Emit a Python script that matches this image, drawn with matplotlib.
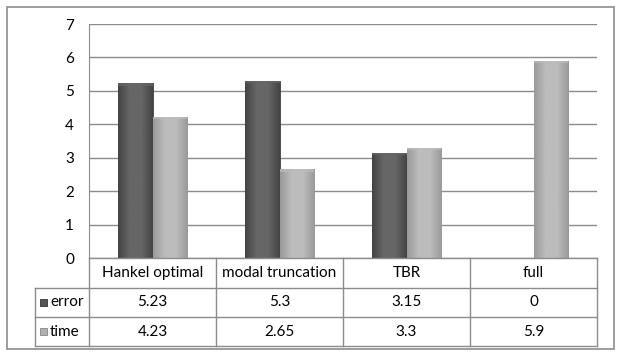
import numpy as np
import matplotlib
matplotlib.use("Agg")
import matplotlib.pyplot as plt
from matplotlib.patches import Rectangle
from matplotlib.lines import Line2D

# data
categories = ["Hankel optimal", "modal truncation", "TBR", "full"]
series_names = ["error", "time"]
error_vals = [5.23, 5.3, 3.15, 0]
time_vals = [4.23, 2.65, 3.3, 5.9]
error_labels = ["5.23", "5.3", "3.15", "0"]
time_labels = ["4.23", "2.65", "3.3", "5.9"]
yticks = [0, 1, 2, 3, 4, 5, 6, 7]

W, H = 622, 357
FS = 11
plt.rcParams['font.family'] = ['Lato', 'DejaVu Sans']

fig = plt.figure(figsize=(W / 100, H / 100), dpi=100)


def fx(x):
    return x / W


def fy(y):
    return 1 - y / H


# outer frame
fig.patches.append(Rectangle((fx(7), fy(349)), fx(614) - fx(7), fy(7) - fy(349),
                             transform=fig.transFigure, fill=False,
                             edgecolor="#8c8c8c", lw=1.2))

ax = fig.add_axes([fx(89), fy(258), fx(597) - fx(89), fy(24) - fy(258)])
ax.set_xlim(-0.5, 3.5)
ax.set_ylim(0, 7)
ax.set_yticks(yticks)
ax.set_xticks([])
for s in ["top", "right", "bottom"]:
    ax.spines[s].set_visible(False)
ax.spines["left"].set_color("#8c8c8c")
ax.tick_params(axis="y", length=0, pad=14, labelsize=FS, colors="#000000")
for t in ax.get_yticklabels():
    t.set_horizontalalignment("center")
ax.yaxis.grid(True, color="#8c8c8c", lw=1.0)
ax.set_axisbelow(True)

x = np.arange(len(categories))
bw = 0.275


def grad_bars(bars, dark, light):
    cmap = matplotlib.colors.LinearSegmentedColormap.from_list("g", [dark, light, light, dark])
    g = np.linspace(0, 1, 64).reshape(1, -1)
    for b in bars:
        h = b.get_height()
        if h <= 0:
            continue
        x0 = b.get_x()
        im = ax.imshow(g, extent=(x0, x0 + b.get_width(), 0, h), aspect="auto",
                       cmap=cmap, zorder=3, origin="lower")
        im.set_clip_path(b)
        # top bevel
        ax.add_patch(Rectangle((x0, h - 0.07), b.get_width(), 0.07, facecolor=light,
                               edgecolor="none", alpha=0.7, zorder=4))


b1 = ax.bar(x - bw / 2, error_vals, bw, color="#5e5e5e", edgecolor="#3f3f3f", lw=0.6, zorder=2)
b2 = ax.bar(x + bw / 2, time_vals, bw, color="#b4b4b4", edgecolor="#8a8a8a", lw=0.6, zorder=2)
grad_bars(b1, "#444444", "#666666")
grad_bars(b2, "#9a9a9a", "#bcbcbc")
ax.set_xlim(-0.5, 3.5)
ax.set_ylim(0, 7)

# data table below
lc = "#8c8c8c"
col_x = [89, 216, 343, 470, 597]


def hline(x0, x1, y):
    fig.lines.append(Line2D([fx(x0), fx(x1)], [fy(y), fy(y)], transform=fig.transFigure,
                            color=lc, lw=1.0))


def vline(x, y0, y1):
    fig.lines.append(Line2D([fx(x), fx(x)], [fy(y0), fy(y1)], transform=fig.transFigure,
                            color=lc, lw=1.0))


hline(89, 597, 258)
hline(35, 597, 288)
hline(35, 597, 317)
hline(35, 597, 346)
vline(35, 288, 346)
for cx in col_x:
    vline(cx, 258, 346)

for i, cat in enumerate(categories):
    cx = (col_x[i] + col_x[i + 1]) / 2
    fig.text(fx(cx), fy(273), cat, ha="center", va="center", fontsize=FS)
    fig.text(fx(cx), fy(302.5), error_labels[i], ha="center", va="center", fontsize=FS)
    fig.text(fx(cx), fy(331.5), time_labels[i], ha="center", va="center", fontsize=FS)

for name, yc, col, ec in [(series_names[0], 302.5, "#555555", "#333333"),
                          (series_names[1], 331.5, "#b0b0b0", "#888888")]:
    fig.patches.append(Rectangle((fx(40), fy(yc + 3.5)), fx(7), fy(0) - fy(7),
                                 transform=fig.transFigure, facecolor=col,
                                 edgecolor=ec, lw=0.6))
    fig.text(fx(50), fy(yc), name, ha="left", va="center", fontsize=FS)

fig.savefig("out.png", dpi=100)
